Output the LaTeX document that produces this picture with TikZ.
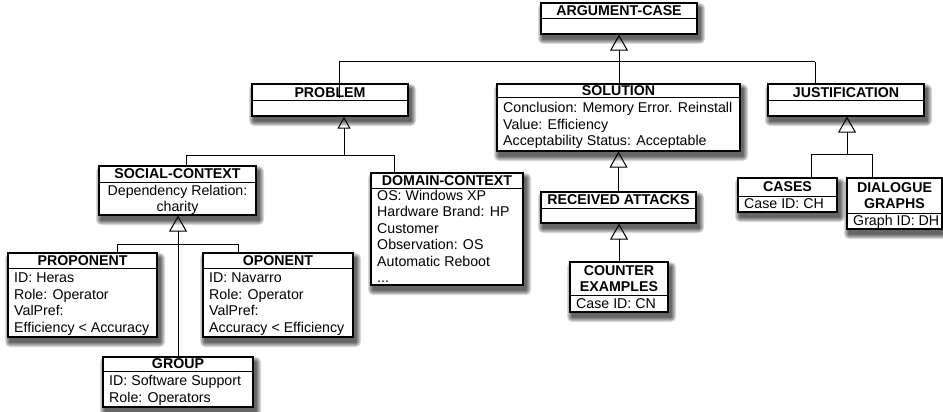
\documentclass[tikz,border=0pt]{standalone}
\usepackage{fontspec}
\setmainfont{Liberation Sans}
\usetikzlibrary{arrows.meta,fit}
\tikzset{
  box/.style={draw, line width=1.3pt, fill=white, inner sep=0pt},
  shadowlayer/.style={fill=black, fill opacity=0.14, draw=none},
  divider/.style={line width=1pt},
  ttl/.style={font=\fontsize{14.2}{16.5}\selectfont\bfseries, align=center, inner sep=0pt, yshift=-1.5pt},
  bodyl/.style={font=\fontsize{14.2}{16.5}\selectfont, align=left, anchor=west, inner sep=0pt, yshift=-1.5pt},
  bodyc/.style={font=\fontsize{14.2}{16.5}\selectfont, align=center, inner sep=0pt, yshift=-1.5pt},
  conn/.style={line width=1pt},
  inh/.style={conn, -{Triangle[open, length=16pt, width=18pt]}},
  inhs/.style={conn, -{Triangle[open, length=12pt, width=13pt]}},
}
\newcommand\umlbox[7]{%
  \foreach \s in {5,4,3,2,1,0.5}{%
    \fill[shadowlayer, rounded corners={\s pt}] ({#2+2-\s},{#3+5-\s}) rectangle ({#4+3+\s},{#6+5+\s});
  }
  \node[box, fit={(#2,#3) (#4,#6)}] (#1) {};
  \draw[divider] (#2,#5) -- (#4,#5);
  \node[ttl] (#1-t) at ({(#2+#4)/2},{(#3+#5)/2}) {#7};
}
\begin{document}
\begin{tikzpicture}[x=1pt,y=-1pt]
\useasboundingbox (0,0) rectangle (943,412);

\umlbox{AC}{541}{3}{697}{19}{34}{\strut ARGUMENT-CASE}
\umlbox{PROB}{252}{84}{408}{101}{116}{\strut PROBLEM}
\umlbox{SOL}{497}{84}{740}{98}{151}{\strut SOLUTION}
\node[bodyl] (SOL-b) at (503,124.5) {\strut Conclusion: Memory Error. Reinstall\\\strut Value: Efficiency\\\strut Acceptability Status: Acceptable};
\umlbox{JUST}{768}{84}{924}{101}{116}{\strut JUSTIFICATION}
\umlbox{SOC}{99}{166}{256}{182}{215}{\strut SOCIAL-CONTEXT}
\node[bodyc] (SOC-b) at (177.5,198.5) {\strut Dependency Relation:\\\strut charity};
\umlbox{DOM}{371}{173}{523}{188}{285}{\strut DOMAIN-CONTEXT}
\node[bodyl] (DOM-b) at (377,236.5) {\strut OS: Windows XP\\\strut Hardware Brand: HP\\\strut Customer\\\strut Observation: OS\\\strut Automatic Reboot\\\strut ...};
\umlbox{RA}{541}{192}{696}{208}{223}{\strut RECEIVED ATTACKS}
\umlbox{CE}{570}{262}{668}{295}{312}{\strut COUNTER\\\strut EXAMPLES}
\node[bodyl] (CE-b) at (576,303.5) {\strut Case ID: CN};
\umlbox{CAS}{738}{178}{837}{196}{212}{\strut CASES}
\node[bodyl] (CAS-b) at (744,204) {\strut Case ID: CH};
\umlbox{DIA}{847}{178}{942}{213}{229}{\strut DIALOGUE\\\strut GRAPHS}
\node[bodyl] (DIA-b) at (853,221) {\strut Graph ID: DH};
\umlbox{PRO}{8}{253}{157}{268}{337}{\strut PROPONENT}
\node[bodyl] (PRO-b) at (14,302.5) {\strut ID: Heras\\\strut Role: Operator\\\strut ValPref:\\\strut Efficiency < Accuracy};
\umlbox{OPO}{203}{253}{353}{268}{337}{\strut OPONENT}
\node[bodyl] (OPO-b) at (209,302.5) {\strut ID: Navarro\\\strut Role: Operator\\\strut ValPref:\\\strut Accuracy < Efficiency};
\umlbox{GRP}{103}{357}{253}{371}{407}{\strut GROUP}
\node[bodyl] (GRP-b) at (109,389) {\strut ID: Software Support\\\strut Role: Operators};

% ARGUMENT-CASE generalisation
\coordinate (jAC) at (619,62);
\coordinate (jACl) at (339,62);
\coordinate (jACr) at (815,62);
\coordinate (pin) at (339,98);
\draw[inh] (jAC) -- (jAC |- AC.south);
\draw[conn] (jACl) -- (jACr);
\draw[conn] (jACl) -- (pin);
\draw[conn] (jAC) -- (jAC |- SOL.north);
\draw[conn] (jACr) -- (jACr |- JUST.north);

% PROBLEM generalisation
\coordinate (jPR) at (344,155);
\coordinate (jPRl) at (186,155);
\coordinate (jPRr) at (394,155);
\draw[inhs] (jPR) -- (jPR |- PROB.south);
\draw[conn] (jPRl) -- (jPRr);
\draw[conn] (jPRl) -- (jPRl |- SOC.north);
\draw[conn] (jPRr) -- (jPRr |- DOM.north);

% SOCIAL-CONTEXT generalisation
\coordinate (jSC) at (178,244);
\coordinate (jSCl) at (117,244);
\coordinate (jSCr) at (238,244);
\draw[inh] (jSC) -- (jSC |- SOC.south);
\draw[conn] (jSCl) -- (jSCr);
\draw[conn] (jSCl) -- (jSCl |- PRO.north);
\draw[conn] (jSCr) -- (jSCr |- OPO.north);
\draw[conn] (jSC) -- (jSC |- GRP.north);

% SOLUTION chain
\draw[inh] (RA.north) -- (RA.north |- SOL.south);
\draw[inh] (CE.north) -- (CE.north |- RA.south);

% JUSTIFICATION generalisation
\coordinate (jJU) at (847,154);
\coordinate (jJUl) at (811,154);
\coordinate (jJUr) at (872,154);
\draw[inh] (jJU) -- (jJU |- JUST.south);
\draw[conn] (jJUl) -- (jJUr);
\draw[conn] (jJUl) -- (jJUl |- CAS.north);
\draw[conn] (jJUr) -- (jJUr |- DIA.north);
\end{tikzpicture}
\end{document}
